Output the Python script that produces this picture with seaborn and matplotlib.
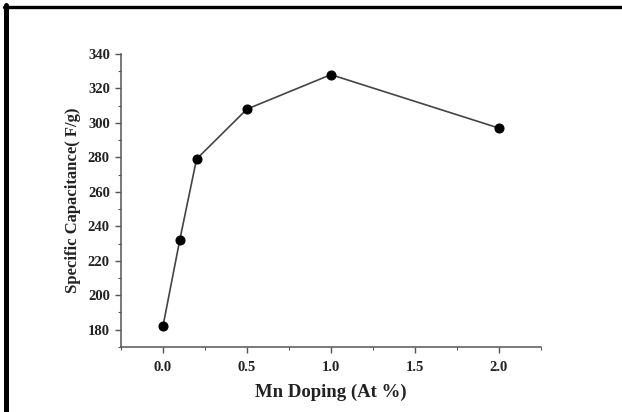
import matplotlib
matplotlib.use("Agg")
import matplotlib.pyplot as plt
import numpy as np
import pandas as pd
import seaborn as sns
from matplotlib.lines import Line2D
from matplotlib.ticker import MultipleLocator

# Mn doping level vs specific capacitance
mn_doping = [0.0, 0.1, 0.2, 0.5, 1.0, 2.0]
capacitance = [182, 232, 279, 308, 328, 297]

df = pd.DataFrame({"doping": mn_doping, "cap": capacitance})

sns.set_theme(style="ticks")
plt.rcParams["font.family"] = ["Liberation Serif", "DejaVu Serif"]
plt.rcParams["font.weight"] = "bold"

fig = plt.figure(figsize=(6.22, 4.12), dpi=100)
ax = fig.add_axes([0.1945, 0.158, 0.675, 0.711])

sns.lineplot(data=df, x="doping", y="cap", ax=ax, color="#444444",
             linewidth=1.2, marker="o", markersize=6.5,
             markerfacecolor="black", markeredgecolor="black", zorder=3)

ax.set_xlim(-0.25, 2.25)
ax.set_ylim(170, 340)
ax.set_xticks([0.0, 0.5, 1.0, 1.5, 2.0])
ax.set_yticks(np.arange(180, 341, 20))
ax.xaxis.set_minor_locator(MultipleLocator(0.25))
ax.yaxis.set_minor_locator(MultipleLocator(10))
ax.set_xticklabels([f"{v:.1f}" for v in ax.get_xticks()])

for side in ["top", "right"]:
    ax.spines[side].set_visible(False)
for side in ["left", "bottom"]:
    ax.spines[side].set_color("#555555")
    ax.spines[side].set_linewidth(1.1)

ax.tick_params(axis="both", which="major", length=4, width=1, color="#555555",
               labelsize=10.5, pad=4)
ax.tick_params(axis="x", which="major", pad=6)
ax.tick_params(axis="both", which="minor", length=2.5, width=0.8, color="#555555")
for lab in ax.get_xticklabels() + ax.get_yticklabels():
    lab.set_fontweight("bold")
    lab.set_color("#222222")

ax.set_xlabel("Mn Doping (At %)", fontsize=13.5, fontweight="bold", color="#222222", labelpad=7)
ax.set_ylabel("Specific Capacitance( F/g)", fontsize=12, fontweight="bold", color="#222222", labelpad=5)

# frame lines of the original screenshot
fig.add_artist(Line2D([6 / 622, 6 / 622], [0, 1 - 5 / 412], transform=fig.transFigure,
                      color="black", linewidth=3.6))
fig.add_artist(Line2D([4 / 622, 1], [1 - 6.5 / 412, 1 - 6.5 / 412], transform=fig.transFigure,
                      color="black", linewidth=2.4))

fig.savefig("out.png", dpi=100, facecolor="white")
